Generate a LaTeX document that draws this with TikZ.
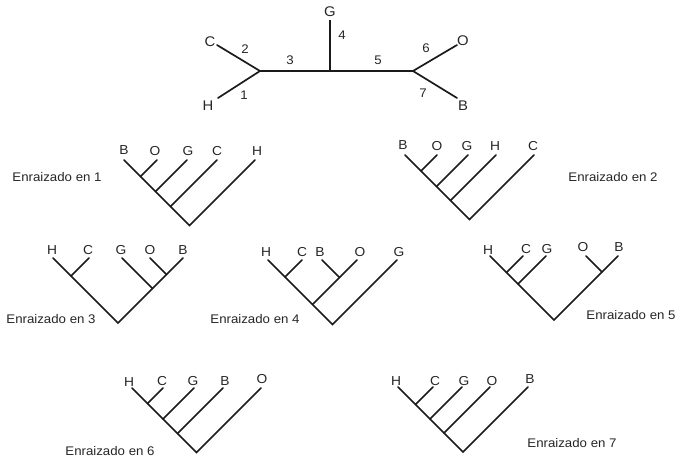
\documentclass[tikz,border=0pt]{standalone}
\usepackage{fontspec}
\setmainfont{Liberation Sans}
\newfontfamily\labfont[FakeStretch=1.06]{Liberation Sans}
\definecolor{ink}{HTML}{1A1A1A}
\definecolor{txt}{HTML}{262626}
\begin{document}
\begin{tikzpicture}[x=1pt,y=-1pt,
  branch/.style={line width=1.7pt, draw=ink, line cap=round},
  vline/.style={line width=1.1pt, draw=ink},
  leaf/.style={font=\labfont\fontsize{13}{14}\selectfont, inner sep=0pt, text=txt},
  bigleaf/.style={font=\labfont\fontsize{14}{15}\selectfont, inner sep=0pt, text=txt},
  num/.style={font=\labfont\fontsize{12.5}{13}\selectfont, inner sep=0pt, text=txt},
  captxt/.style={font=\labfont\fontsize{12.5}{13}\selectfont, inner sep=0pt, text=txt}]
\useasboundingbox (0,0) rectangle (679,461);

% ---------- unrooted tree ----------
\coordinate (u1) at (260,71);
\coordinate (u2) at (330,71);
\coordinate (u3) at (413,71);
\coordinate (uC) at (217,45);
\coordinate (uH) at (218,98);
\coordinate (uG) at (330,20);
\coordinate (uO) at (457,45);
\coordinate (uB) at (457,98);
\draw[branch] (uC) -- (u1);
\draw[branch] (uH) -- (u1);
\draw[branch] (u1) -- (u2);
\draw[vline] (u2) -- (uG);
\draw[branch] (u2) -- (u3);
\draw[branch] (u3) -- (uO);
\draw[branch] (u3) -- (uB);
\node[bigleaf] (uLC) at (210,42) {C};
\node[bigleaf] (uLH) at (208,106) {H};
\node[bigleaf] (uLG) at (330,12) {G};
\node[bigleaf] (uLO) at (463,41) {O};
\node[bigleaf] (uLB) at (463,106) {B};
\node[num] (e2) at (245,49) {2};
\node[num] (e1) at (244,95) {1};
\node[num] (e3) at (290,60) {3};
\node[num] (e4) at (342,35) {4};
\node[num] (e5) at (378,60) {5};
\node[num] (e6) at (426,48) {6};
\node[num] (e7) at (423,93) {7};

% ---------- tree 1: (((B,O),G),C),H ----------
\coordinate (aB) at (124,160);
\coordinate (aO) at (157,160);
\coordinate (aG) at (187,160);
\coordinate (aC) at (217,160);
\coordinate (aH) at (255,160);
\coordinate (a1) at (140.5,176.5);
\coordinate (a2) at (155.5,191.5);
\coordinate (a3) at (170.5,206.5);
\coordinate (ar) at (189.5,225.5);
\draw[branch] (aB) -- (ar) -- (aH);
\draw[branch] (a1) -- (aO);
\draw[branch] (a2) -- (aG);
\draw[branch] (a3) -- (aC);
\node[leaf] (aLB) at (124,150) {B};
\node[leaf] (aLO) at (155,151) {O};
\node[leaf] (aLG) at (188,151) {G};
\node[leaf] (aLC) at (217,151) {C};
\node[leaf] (aLH) at (257,151) {H};
\node[captxt] (capa) at (57,177) {Enraizado en 1};

% ---------- tree 2: (((B,O),G),H),C ----------
\coordinate (bB) at (405,155);
\coordinate (bO) at (437,155);
\coordinate (bG) at (468,155);
\coordinate (bH) at (496,155);
\coordinate (bC) at (534,155);
\coordinate (b1) at (421,171);
\coordinate (b2) at (436.5,186.5);
\coordinate (b3) at (450.5,200.5);
\coordinate (broot) at (469.5,219.5);
\draw[branch] (bB) -- (broot) -- (bC);
\draw[branch] (b1) -- (bO);
\draw[branch] (b2) -- (bG);
\draw[branch] (b3) -- (bH);
\node[leaf] (bLB) at (403,145) {B};
\node[leaf] (bLO) at (437,146) {O};
\node[leaf] (bLG) at (467,146) {G};
\node[leaf] (bLH) at (495,146) {H};
\node[leaf] (bLC) at (533,146) {C};
\node[captxt] (capb) at (613,177) {Enraizado en 2};

% ---------- tree 3: ((H,C),(G,(O,B))) ----------
\coordinate (cH) at (53,258);
\coordinate (cC) at (89,258);
\coordinate (cG) at (122,258);
\coordinate (cO) at (150,258);
\coordinate (cB) at (183,258);
\coordinate (c1) at (71,276);
\coordinate (c2) at (166.5,274.5);
\coordinate (c3) at (152.5,288.5);
\coordinate (cr) at (118,323);
\draw[branch] (cH) -- (cr) -- (cB);
\draw[branch] (c1) -- (cC);
\draw[branch] (c3) -- (cG);
\draw[branch] (c2) -- (cO);
\node[leaf] (cLH) at (52,250) {H};
\node[leaf] (cLC) at (88,250) {C};
\node[leaf] (cLG) at (121,250) {G};
\node[leaf] (cLO) at (150,250) {O};
\node[leaf] (cLB) at (183,250) {B};
\node[captxt] (capc) at (51,319) {Enraizado en 3};

% ---------- tree 4: (((H,C),(B,O)),G) ----------
\coordinate (dH) at (268,260);
\coordinate (dC) at (302,260);
\coordinate (dB) at (322,260);
\coordinate (dO) at (357,260);
\coordinate (dG) at (397,260);
\coordinate (d1) at (285,277);
\coordinate (d2) at (339.5,277.5);
\coordinate (d3) at (312.5,304.5);
\coordinate (dr) at (332.5,324.5);
\draw[branch] (dH) -- (dr) -- (dG);
\draw[branch] (d1) -- (dC);
\draw[branch] (d3) -- (dO);
\draw[branch] (d2) -- (dB);
\node[leaf] (dLH) at (266,252) {H};
\node[leaf] (dLC) at (302,252) {C};
\node[leaf] (dLB) at (320,252) {B};
\node[leaf] (dLO) at (360,252) {O};
\node[leaf] (dLG) at (399,252) {G};
\node[captxt] (capd) at (255,319) {Enraizado en 4};

% ---------- tree 5: (((H,C),G),(O,B)) ----------
\coordinate (eH) at (490,256);
\coordinate (eC) at (523,256);
\coordinate (eG) at (546,256);
\coordinate (eO) at (586,256);
\coordinate (eB) at (618,256);
\coordinate (ee1) at (506.5,272.5);
\coordinate (ee2) at (518,284);
\coordinate (ee3) at (602,272);
\coordinate (er) at (554,320);
\draw[branch] (eH) -- (er) -- (eB);
\draw[branch] (ee1) -- (eC);
\draw[branch] (ee2) -- (eG);
\draw[branch] (ee3) -- (eO);
\node[leaf] (eLH) at (488,250) {H};
\node[leaf] (eLC) at (526,249) {C};
\node[leaf] (eLG) at (547,249) {G};
\node[leaf] (eLO) at (583,247) {O};
\node[leaf] (eLB) at (619,247) {B};
\node[captxt] (cape) at (631,315) {Enraizado en 5};

% ---------- tree 6: ((((H,C),G),B),O) ----------
\coordinate (fH) at (132,388);
\coordinate (fC) at (163,388);
\coordinate (fG) at (194,388);
\coordinate (fB) at (223,388);
\coordinate (fO) at (261,388);
\coordinate (f1) at (147.5,403.5);
\coordinate (f2) at (163,419);
\coordinate (f3) at (177.5,433.5);
\coordinate (fr) at (196.5,452.5);
\draw[branch] (fH) -- (fr) -- (fO);
\draw[branch] (f1) -- (fC);
\draw[branch] (f2) -- (fG);
\draw[branch] (f3) -- (fB);
\node[leaf] (fLH) at (129,382) {H};
\node[leaf] (fLC) at (162,381) {C};
\node[leaf] (fLG) at (193,381) {G};
\node[leaf] (fLB) at (225,381) {B};
\node[leaf] (fLO) at (262,379) {O};
\node[captxt] (capf) at (110,451) {Enraizado en 6};

% ---------- tree 7: ((((H,C),G),O),B) ----------
\coordinate (gH) at (398,387);
\coordinate (gC) at (433,387);
\coordinate (gG) at (462,387);
\coordinate (gO) at (490,387);
\coordinate (gB) at (528,387);
\coordinate (g1) at (415.5,404.5);
\coordinate (g2) at (430,419);
\coordinate (g3) at (444,433);
\coordinate (gr) at (463,452);
\draw[branch] (gH) -- (gr) -- (gB);
\draw[branch] (g1) -- (gC);
\draw[branch] (g2) -- (gG);
\draw[branch] (g3) -- (gO);
\node[leaf] (gLH) at (396,381) {H};
\node[leaf] (gLC) at (435,381) {C};
\node[leaf] (gLG) at (464,381) {G};
\node[leaf] (gLO) at (492,381) {O};
\node[leaf] (gLB) at (530,379) {B};
\node[captxt] (capg) at (572,443) {Enraizado en 7};
\end{tikzpicture}
\end{document}
